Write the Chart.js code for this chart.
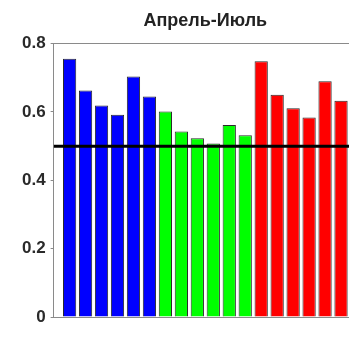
<!DOCTYPE html>
<html>
<head>
<meta charset="utf-8">
<script src="https://cdn.jsdelivr.net/npm/chart.js@4"></script>
<style>
  html, body { margin: 0; padding: 0; background: #fff; overflow: hidden; }
  #wrap { width: 365px; height: 343px; }
</style>
</head>
<body>
<div id="wrap"><canvas id="chart" width="365" height="343"></canvas></div>
<script>
// data
const titleText = "Апрель-Июль";
const blueValues = [0.756, 0.663, 0.619, 0.592, 0.704, 0.645];
const greenValues = [0.601, 0.543, 0.523, 0.508, 0.562, 0.532];
const redValues = [0.748, 0.650, 0.611, 0.584, 0.690, 0.633];
const refLevel = 0.5;
const yTicks = [0, 0.2, 0.4, 0.6, 0.8];

// bars sit at x = 1..18, axis runs 0..19
const allValues = blueValues.concat(greenValues, redValues);
const barPoints = allValues.map((v, i) => ({ x: i + 1, y: v }));
const barColors = allValues.map((v, i) =>
  i < blueValues.length ? "#0000ff" :
  i < blueValues.length + greenValues.length ? "#00ff00" : "#ff0000");
const xMax = allValues.length + 1;

document.addEventListener("DOMContentLoaded", () => {
  drawChart();
});

function drawChart() {
  const ctx = document.getElementById("chart");
  new Chart(ctx, {
    data: {
      datasets: [
        {
          type: "line",
          data: [{ x: 0, y: refLevel }, { x: xMax, y: refLevel }],
          borderColor: "#000",
          borderWidth: 3,
          pointRadius: 0,
          order: 0,
        },
        {
          type: "bar",
          data: barPoints,
          backgroundColor: barColors,
          borderColor: "#2a2a2a",
          borderWidth: 1,
          barPercentage: 0.83,
          categoryPercentage: 1,
          order: 1,
        },
      ],
    },
    options: {
      responsive: false,
      animation: false,
      layout: { padding: { left: 17, right: 8, top: 0, bottom: 18 } },
      plugins: {
        legend: { display: false },
        tooltip: { enabled: false },
        title: {
          display: true,
          text: titleText,
          fullSize: false,
          color: "#222",
          font: { family: "Liberation Sans, Arial", size: 18, weight: "bold" },
          padding: { top: 10, bottom: 4 },
        },
      },
      scales: {
        x: {
          type: "linear",
          min: 0,
          max: xMax,
          offset: false,
          ticks: { display: false },
          grid: { display: false },
          border: { color: "#8a8a8a", width: 1 },
        },
        x2: {
          type: "linear",
          position: "top",
          min: 0,
          max: xMax,
          offset: false,
          ticks: { display: false },
          grid: { display: false },
          border: { color: "#8a8a8a", width: 1 },
        },
        y: {
          min: 0,
          max: 0.8,
          afterBuildTicks: (axis) => {
            axis.ticks = yTicks.map((v) => ({ value: v }));
          },
          ticks: {
            color: "#2a2a2a",
            padding: 5,
            font: { family: "Liberation Sans, Arial", size: 17, weight: "bold" },
            callback: (v) => String(Math.round(v * 10) / 10),
          },
          grid: { drawOnChartArea: false, tickLength: 3, color: "#8a8a8a" },
          border: { color: "#8a8a8a", width: 1 },
        },
      },
    },
  });
}
</script>
</body>
</html>
